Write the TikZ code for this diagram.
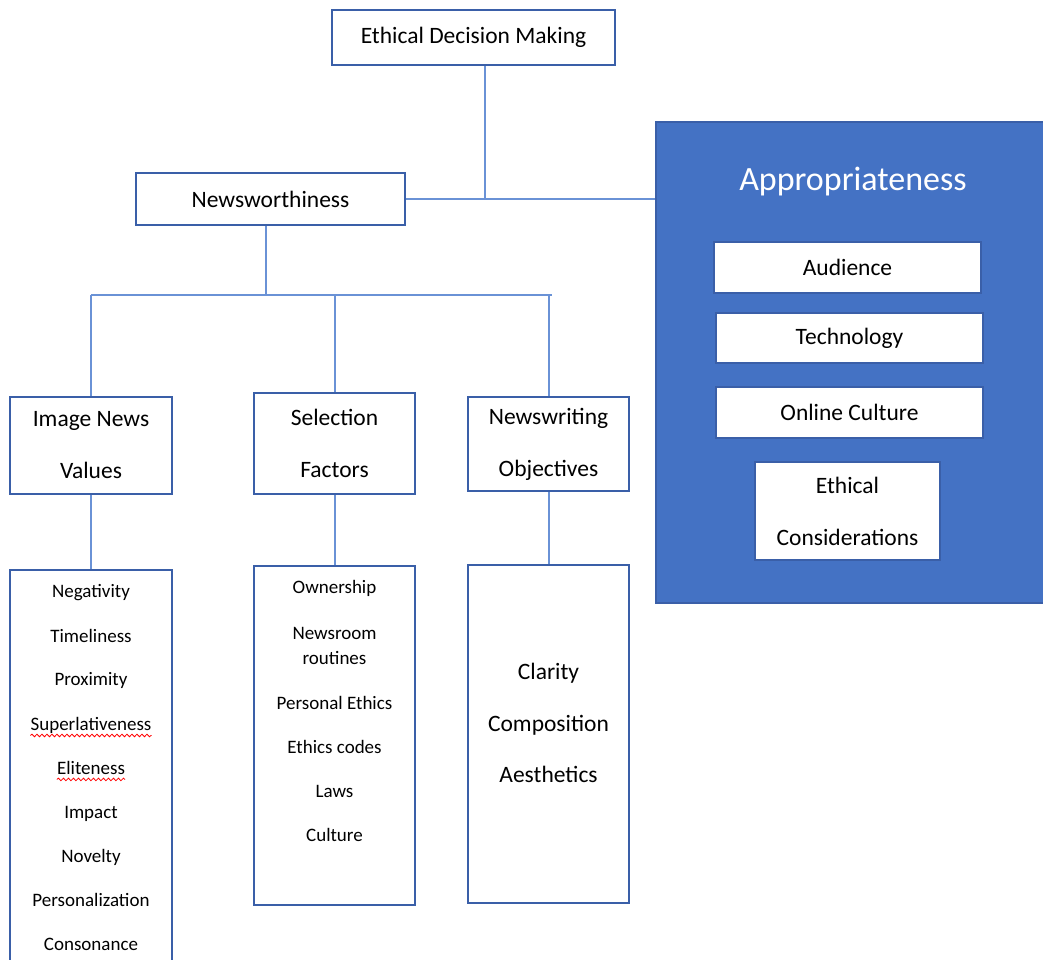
\documentclass[tikz,border=0pt]{standalone}
\usepackage{fontspec}
\setmainfont{Carlito}
\usetikzlibrary{decorations.pathmorphing}
\definecolor{officeblue}{HTML}{4472C4}
\definecolor{boxline}{HTML}{3A5FA8}
\definecolor{linkline}{HTML}{6A92D6}

\begin{document}
\begin{tikzpicture}[x=1pt, y=-1pt,
  box/.style={draw=boxline, line width=1.6pt, fill=white, inner sep=0pt, align=center, font=\fontsize{23.5}{52}\selectfont},
  link/.style={draw=linkline, line width=2pt},
  item/.style={inner sep=0pt, text height=12.5pt, text depth=0pt, font=\fontsize{19}{22}\selectfont},
  bigitem/.style={inner sep=0pt, text height=15pt, text depth=0pt, font=\fontsize{23.5}{28}\selectfont},
  spell/.style={draw=red, line width=0.8pt, decorate, decoration={snake, amplitude=1.3pt, segment length=5pt}}]

\useasboundingbox (0,0) rectangle (1043,960);
\clip (0,0) rectangle (1043,960);

\node[box, minimum width=283pt, minimum height=55pt] (edm) at (473.5,37.5) {Ethical Decision Making};
\node[box, minimum width=269pt, minimum height=52pt] (nw) at (270.5,199) {Newsworthiness};

\node[box, minimum width=162pt, minimum height=97pt] (inv) at (91,445.5) {Image News\\Values};
\node[box, minimum width=161pt, minimum height=101pt] (sel) at (334.5,443.5) {Selection\\Factors};
\node[box, minimum width=161pt, minimum height=94pt] (obj) at (548.5,444) {Newswriting\\Objectives};

\node[box, minimum width=162pt, minimum height=420pt] (invlist) at (91,780) {};
\node[box, minimum width=161pt, minimum height=339pt] (sellist) at (334.5,735.5) {};
\node[box, minimum width=161pt, minimum height=338pt] (objlist) at (548.5,734) {};

\foreach \y/\t [count=\i] in {591/Negativity, 636/Timeliness, 679/Proximity, 724/Superlativeness, 768/Eliteness, 812/Impact, 856/Novelty, 900/Personalization, 944/Consonance}
  \node[item] (inv\i) at (91,\y) {\t};
\draw[spell] ([yshift=-5pt]inv4.south west) -- ([yshift=-5pt]inv4.south east);
\draw[spell] ([yshift=-5pt]inv5.south west) -- ([yshift=-5pt]inv5.south east);

\foreach \y/\t [count=\i] in {587/Ownership, 633/Newsroom, 658/routines, 703/Personal Ethics, 747/Ethics codes, 791/Laws, 835/Culture}
  \node[item] (sel\i) at (334.5,\y) {\t};

\foreach \y/\t [count=\i] in {672/Clarity, 724/Composition, 775/Aesthetics}
  \node[bigitem] (obj\i) at (548.5,\y) {\t};

\node[fill=officeblue, draw=boxline, line width=1.2pt, minimum width=400pt, minimum height=481pt, inner sep=0pt] (appr) at (856,362.5) {};
\node[text=white, inner sep=0pt, font=\fontsize{34}{40}\selectfont] (apprtitle) at (853,182) {Appropriateness};
\node[box, minimum width=267pt, minimum height=51pt] (aud) at (847.5,267.5) {Audience};
\node[box, minimum width=267pt, minimum height=50pt] (tech) at (849.5,338) {Technology};
\node[box, minimum width=267pt, minimum height=51pt] (onl) at (849.5,412.5) {Online Culture};
\node[box, minimum width=185pt, minimum height=98pt] (ethc) at (847.5,511) {Ethical\\Considerations};

\coordinate (bus) at (266,295);
\coordinate (busend) at (552,295);

\draw[link] ([xshift=11.5pt]edm.south) -- ([xshift=11.5pt]edm.south |- nw.east);
\draw[link] (nw.east) -- (appr.west |- nw.east);
\draw[link] ([xshift=-4.5pt]nw.south) -- (bus);
\draw[link] (inv.north |- bus) -- (busend);
\draw[link] (inv.north |- bus) -- (inv.north);
\draw[link] (sel.north |- bus) -- (sel.north);
\draw[link] (obj.north |- bus) -- (obj.north);
\draw[link] (inv.south) -- (invlist.north);
\draw[link] (sel.south) -- (sellist.north);
\draw[link] (obj.south) -- (objlist.north);

\end{tikzpicture}
\end{document}
